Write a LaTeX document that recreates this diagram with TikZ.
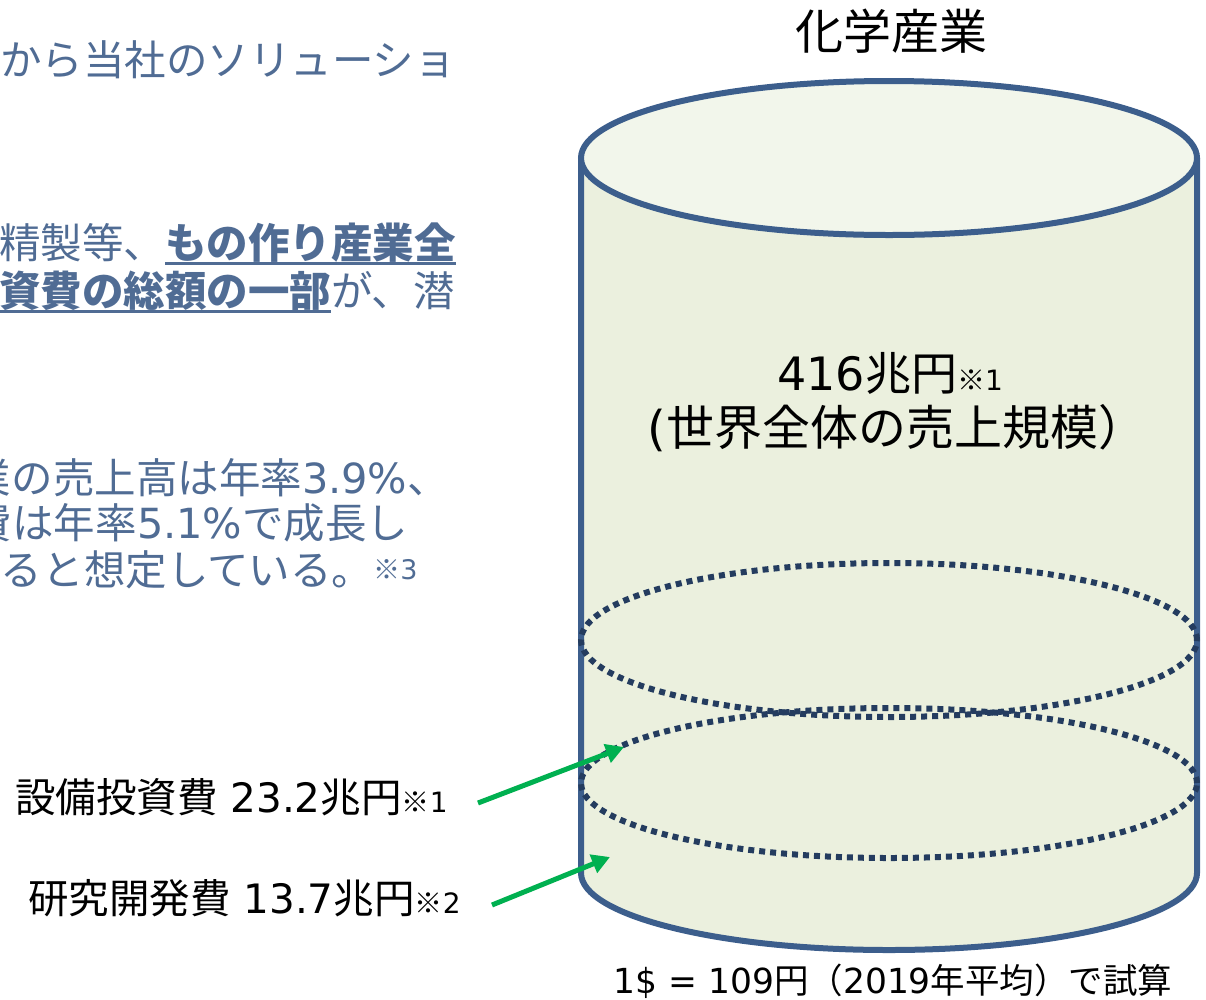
\documentclass[tikz,border=0pt]{standalone}
\usepackage{fontspec}
\setmainfont{Noto Sans CJK JP}
\newfontfamily\lat{DejaVu Sans}
\usetikzlibrary{arrows.meta}
\definecolor{txtblue}{RGB}{80,108,148}
\definecolor{cylline}{RGB}{60,94,140}
\definecolor{cylside}{RGB}{235,240,222}
\definecolor{cyltop}{RGB}{242,246,235}
\definecolor{dotnavy}{RGB}{36,60,95}
\definecolor{arrgreen}{RGB}{0,176,80}
\newsavebox\ulsave
\newcommand\ulbox[1]{\sbox\ulsave{#1}\rlap{\rule[-7pt]{\wd\ulsave}{3.5pt}}\usebox\ulsave}
\newcommand\smallmark[1]{{\fontsize{28}{28}\selectfont ※{\lat #1}}}
\tikzset{
  graytxt/.style={anchor=base west, inner sep=0pt, outer sep=0pt, text=txtblue, font=\fontsize{41.5}{48}\selectfont},
  cyltxt/.style={anchor=base, inner sep=0pt, font=\fontsize{46}{54}\selectfont},
  lbl/.style={anchor=base west, inner sep=0pt, font=\fontsize{40.5}{48}\selectfont},
  greenarrow/.style={draw=arrgreen, line width=5pt, -{Triangle[length=18pt,width=19pt]}},
  dotell/.style={draw=dotnavy, line width=6pt, dash pattern=on 6pt off 5pt},
  cylborder/.style={draw=cylline, line width=6pt},
}
\begin{document}
\begin{tikzpicture}[x=1pt,y=-1pt]
\useasboundingbox (0,0) rectangle (1206,999);
\clip (0,0) rectangle (1206,999);
% left text (cropped)
\node[graytxt] (g1) at (0,75) {から当社のソリューショ};
\node[graytxt] (g2) at (-1,258) {精製等、\ulbox{\bfseries もの作り産業全}};
\node[graytxt] (g3) at (-1,306) {\ulbox{\bfseries 資費の総額の一部}が、潜};
\node[graytxt] (g4) at (-30,493) {業の売上高は年率{\lat 3.9\%}、};
\node[graytxt] (g5) at (-29,538) {費は年率{\lat 5.1\%}で成長し};
\node[graytxt] (g6) at (1,585) {ると想定している。{\fontsize{27}{27}\selectfont\raisebox{6pt}{※{\lat 3}}}};
% cylinder
\coordinate (tc) at (889,158);
\fill[cylside] (581,158) -- (581,873) arc[start angle=180,end angle=360,x radius=308pt,y radius=77pt] -- (1197,158) -- cycle;
\draw[cylborder, line join=round] (581,158) -- (581,873) arc[start angle=180,end angle=360,x radius=308pt,y radius=77pt] -- (1197,158);
\filldraw[cylborder, fill=cyltop] (tc) ellipse [x radius=308pt, y radius=77pt];
\coordinate (e1) at (889,640);
\coordinate (e2) at (889,783);
\draw[dotell] (e1) ellipse [x radius=308pt, y radius=77pt];
\draw[dotell] (e2) ellipse [x radius=308pt, y radius=75pt];
% texts
\node[cyltxt, font=\fontsize{48}{56}\selectfont] (title) at (891,49) {化学産業};
\node[cyltxt] (total) at (890,390) {{\lat 416}兆円\smallmark{1}};
\node[cyltxt, font=\fontsize{48}{56}\selectfont] (scope) at (897,445) {{\lat (}世界全体の売上規模）};
\node[lbl] (capex) at (15,812) {設備投資費{\lat\ }{\lat 23.2}兆円\smallmark{1}};
\node[lbl] (rnd) at (28,913) {研究開発費{\lat\ }{\lat 13.7}兆円\smallmark{2}};
\node[anchor=base, inner sep=0pt, font=\fontsize{34.5}{40}\selectfont] (note) at (893,993) {{\lat 1\$ = 109}円（{\lat 2019}年平均）で試算};
% arrows
\coordinate (a1s) at (478,803);
\coordinate (a1e) at (624,747);
\coordinate (a2s) at (492,905);
\coordinate (a2e) at (610,857);
\draw[greenarrow] (a1s) -- (a1e);
\draw[greenarrow] (a2s) -- (a2e);
\end{tikzpicture}
\end{document}
